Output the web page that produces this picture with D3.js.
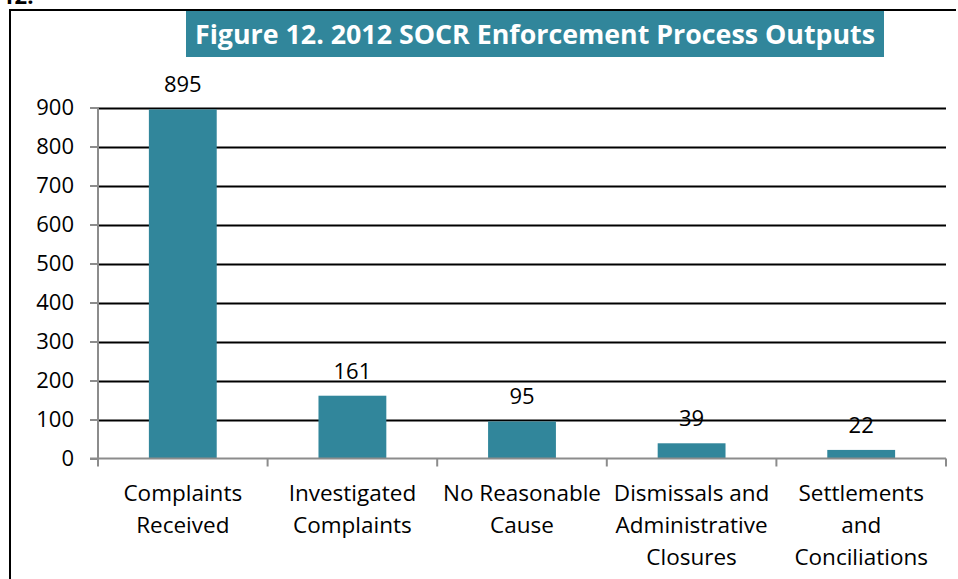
<!DOCTYPE html>
<html>
<head>
<meta charset="utf-8">
<script src="https://cdn.jsdelivr.net/npm/d3@7"></script>
<style>
    body { margin: 0; background: #fff; }
    svg { display: block; font-family: "Open Sans", Lato, sans-serif; }
</style>
</head>
<body>
<div id="chart"></div>
<script>
// Chart data
const categories = [
    ["Complaints", "Received"],
    ["Investigated", "Complaints"],
    ["No Reasonable", "Cause"],
    ["Dismissals and", "Administrative", "Closures"],
    ["Settlements", "and", "Conciliations"]
];
const values = [895, 161, 95, 39, 22];
const yTicks = [0, 100, 200, 300, 400, 500, 600, 700, 800, 900];
const titleText = "Figure 12. 2012 SOCR Enforcement Process Outputs";

function init() {
    const w = 958;
    const h = 579;
    const left = 98, right = 946, top = 107.5, bottom = 458.5;
    const teal = "#31869b";
    const font = "'Open Sans', Lato, sans-serif";

    const svg = d3.select("#chart")
        .append("svg")
        .attr("width", w)
        .attr("height", h);

    // cut-off heading above the figure (cropped in the original too)
    svg.append("text")
        .attr("x", 2)
        .attr("y", 4)
        .attr("font-size", "22px")
        .attr("font-weight", "bold")
        .text("12.");

    // outer frame (left and top edges visible)
    svg.append("path")
        .attr("d", `M10,${h} L10,10 L956,10`)
        .attr("fill", "none")
        .attr("stroke", "#000")
        .attr("stroke-width", 2);

    const keys = categories.map((c, i) => i);

    const xScale = d3.scaleBand()
        .domain(keys)
        .range([left, right])
        .padding(0);

    const yScale = d3.scaleLinear()
        .domain([0, 900])
        .range([bottom, top]);

    // gridlines
    svg.append("g")
        .selectAll("line")
        .data(yTicks.filter(d => d > 0))
        .enter()
        .append("line")
        .attr("x1", left)
        .attr("x2", right)
        .attr("y1", d => Math.round(yScale(d)) + 0.5)
        .attr("y2", d => Math.round(yScale(d)) + 0.5)
        .attr("stroke", "#000")
        .attr("stroke-width", 2);

    // bars
    const bw = xScale.bandwidth();
    svg.append("g")
        .selectAll("rect")
        .data(values)
        .enter()
        .append("rect")
        .attr("x", (d, i) => xScale(i) + bw * 0.3)
        .attr("width", bw * 0.4)
        .attr("y", d => yScale(d))
        .attr("height", d => yScale(0) - yScale(d))
        .attr("fill", teal);

    // value labels
    svg.append("g")
        .selectAll("text")
        .data(values)
        .enter()
        .append("text")
        .attr("x", (d, i) => xScale(i) + bw / 2)
        .attr("y", d => yScale(d) - 17)
        .attr("text-anchor", "middle")
        .attr("font-size", "22px")
        .attr("fill", "#000")
        .text(d => d);

    // y axis
    const yAxis = d3.axisLeft(yScale).tickValues(yTicks).tickSize(8).tickPadding(16);
    const gy = svg.append("g")
        .attr("transform", `translate(${left},0)`)
        .call(yAxis);
    gy.select(".domain").attr("stroke", "#8c8c8c").attr("stroke-width", 2).attr("d", `M0,${top}V${bottom}`);
    gy.selectAll(".tick line").attr("stroke", "#8c8c8c").attr("stroke-width", 2);
    gy.selectAll(".tick text")
        .attr("font-size", "22px")
        .attr("font-family", font)
        .attr("fill", "#000");

    // x axis with boundary ticks
    const gx = svg.append("g");
    gx.append("line")
        .attr("x1", left - 8)
        .attr("x2", right)
        .attr("y1", bottom)
        .attr("y2", bottom)
        .attr("stroke", "#8c8c8c")
        .attr("stroke-width", 2);
    gx.selectAll("line.tick")
        .data(keys.concat([keys.length]))
        .enter()
        .append("line")
        .attr("class", "tick")
        .attr("x1", d => d < keys.length ? xScale(d) : right)
        .attr("x2", d => d < keys.length ? xScale(d) : right)
        .attr("y1", bottom)
        .attr("y2", bottom + 8)
        .attr("stroke", "#8c8c8c")
        .attr("stroke-width", 2);

    gx.selectAll("text")
        .data(categories)
        .enter()
        .append("text")
        .attr("text-anchor", "middle")
        .attr("font-size", "22.5px")
        .attr("fill", "#000")
        .each(function (lines, i) {
            const t = d3.select(this);
            lines.forEach((line, j) => {
                t.append("tspan")
                    .attr("x", xScale(i) + bw / 2)
                    .attr("y", 501 + j * 32)
                    .text(line);
            });
        });

    // title box
    svg.append("rect")
        .attr("x", 186)
        .attr("y", 11)
        .attr("width", 698)
        .attr("height", 46)
        .attr("fill", teal);

    svg.append("text")
        .attr("x", 535)
        .attr("y", 44)
        .attr("text-anchor", "middle")
        .attr("font-size", "27px")
        .attr("font-weight", "bold")
        .attr("fill", "#fff")
        .attr("textLength", 680)
        .attr("lengthAdjust", "spacingAndGlyphs")
        .text(titleText);
}

window.onload = init;
</script>
</body>
</html>
